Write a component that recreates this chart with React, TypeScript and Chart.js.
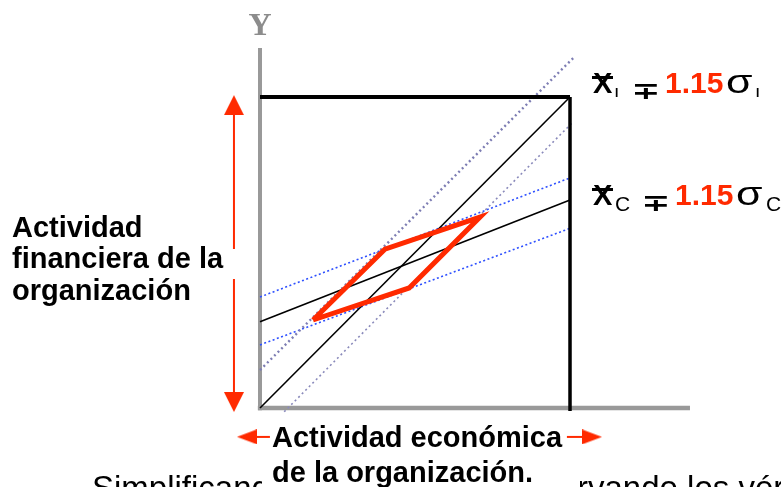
import { useEffect, useRef } from 'react';
import Chart from 'chart.js/auto';

// ---- scale domain (abstract units; origin of the diagram at 0,0, box limit at 10) ----
const X_MIN = -8.387;
const X_MAX = 16.806;
const Y_MIN = -2.54;
const Y_MAX = 13.12;

// ---- axes ----
const axisXx = [-0.07, 13.87];
const axisXy = [0, 0];
const axisYx = [0, 0];
const axisYy = [-0.07, 11.58];

// ---- box limits ----
const topX = [0, 10];
const topY = [10, 10];
const rightX = [10, 10];
const rightY = [10, -0.1];

// ---- line I (steep) and its band ----
const iX = [0, 10];
const iY = [0, 10];
const iUpX = [0, 10.1];
const iUpY = [1.22, 11.25];
const iLoX = [0.78, 10.1];
const iLoY = [-0.12, 9.2];

// ---- line C (flat) and its band ----
const cX = [0, 10];
const cY = [2.77, 6.69];
const cUpX = [0, 10];
const cUpY = [3.57, 7.4];
const cLoX = [0, 10.03];
const cLoY = [2.03, 5.79];

// ---- red zone ----
const zoneX = [1.71, 4.03, 7.1, 4.81, 1.71];
const zoneY = [2.83, 5.11, 6.14, 3.86, 2.83];

// ---- arrows ----
const vShaftX = [-0.84, -0.84, -0.84, -0.84, -0.84];
const vShaftY = [9.6, 5.11, null, 4.15, 0.3];
const hLeftX = [-0.4, 0.32];
const hLeftY = [-0.93, -0.93];
const hRightX = [9.9, 10.7];
const hRightY = [-0.93, -0.93];
const headX = [-0.84, -0.84, -0.74, 11.03];
const headY = [10.06, -0.13, -0.93, -0.93];
const headRot = [-90, 90, 180, 0];

// ---- texts ----
const Y_LABEL = 'Y';
const LEFT_LABEL = ['Actividad', 'financiera de la', 'organización'];
const BOTTOM_LABEL = ['Actividad económica', 'de la organización.'];
const BG_LEFT = 'Simplificando';
const BG_RIGHT_HIDDEN = 'obser';
const BG_RIGHT = 'observando los vértices';
const FACTOR = '1.15';
const SUB_I = 'I';
const SUB_C = 'C';

const RED = '#ff2a00';

const pts = (xs: (number | null)[], ys: (number | null)[]) => xs.map((x, i) => ({ x, y: ys[i] }));

function makeHead(len: number, wid: number) {
  const c = document.createElement('canvas');
  c.width = len * 2;
  c.height = wid;
  const g = c.getContext('2d')!;
  g.fillStyle = RED;
  g.beginPath();
  g.moveTo(0, 0);
  g.lineTo(len, wid / 2);
  g.lineTo(0, wid);
  g.closePath();
  g.fill();
  return c;
}

const SANS = '"Liberation Sans", Arial, sans-serif';

const labelsPlugin = {
  id: 'labels',
  afterDatasetsDraw(chart: any) {
    const ctx: CanvasRenderingContext2D = chart.ctx;
    ctx.save();
    ctx.textBaseline = 'alphabetic';

    // Y axis name
    ctx.fillStyle = '#8c8c8c';
    ctx.font = 'bold 32px "Liberation Serif", serif';
    ctx.textAlign = 'center';
    ctx.fillText(Y_LABEL, 260, 35);

    // left label
    ctx.textAlign = 'left';
    ctx.fillStyle = '#000';
    ctx.font = `bold 29px ${SANS}`;
    const lb = [237, 268, 300];
    LEFT_LABEL.forEach((t, i) => ctx.fillText(t, 12, lb[i]));

    // background sentence (partly hidden)
    ctx.font = `33px ${SANS}`;
    ctx.fillText(BG_LEFT, 92, 499);
    const hid = ctx.measureText(BG_RIGHT_HIDDEN).width;
    ctx.fillText(BG_RIGHT, 588 - hid, 499);
    ctx.fillStyle = '#fff';
    ctx.fillRect(262, 455, 318, 40);

    // bottom label
    ctx.fillStyle = '#000';
    ctx.font = `bold 29px ${SANS}`;
    ctx.fillText(BOTTOM_LABEL[0], 272, 447);
    ctx.fillText(BOTTOM_LABEL[1], 272, 482);

    // right formulas
    const formula = (base: number, sub: string, subFont: string, subDy: number, off: number) => {
      ctx.fillStyle = '#000';
      ctx.font = `bold 29px ${SANS}`;
      ctx.fillText('X', 593, base);
      ctx.fillRect(592, base - 17, 21, 3);
      ctx.font = subFont;
      ctx.fillText(sub, 615, base + subDy);
      ctx.save();
      ctx.translate(631 + off, base + 6);
      ctx.scale(1.45, 1);
      ctx.font = `bold 24px "DejaVu Sans", sans-serif`;
      ctx.fillText('∓', 0, 0);
      ctx.restore();
      ctx.fillStyle = RED;
      ctx.font = `bold 30px ${SANS}`;
      ctx.fillText(FACTOR, 665 + off, base);
      ctx.fillStyle = '#000';
      ctx.save();
      ctx.translate(726 + off, base);
      ctx.scale(1.3, 1);
      ctx.font = `33px ${SANS}`;
      ctx.fillText('σ', 0, 0);
      ctx.restore();
      ctx.font = subFont;
      ctx.fillText(sub, 756 + off, base + subDy);
    };
    formula(93, SUB_I, `bold 12px ${SANS}`, 4, 0);
    formula(205, SUB_C, `21px ${SANS}`, 6, 10);

    ctx.restore();
  },
};

export default function App() {
  const ref = useRef<HTMLCanvasElement | null>(null);

  useEffect(() => {
    if (!ref.current) return;
    const vHead = makeHead(20, 20);
    const hHead = makeHead(20, 15);
    const line = (data: any, color: string, width: number, dash: number[] = []) => ({
      data,
      showLine: true,
      borderColor: color,
      borderWidth: width,
      borderDash: dash,
      pointRadius: 0,
      fill: false,
      clip: false,
    });
    const chart = new Chart(ref.current, {
      type: 'scatter',
      data: {
        datasets: [
          {
            data: pts(headX, headY),
            showLine: false,
            pointRadius: 10,
            pointStyle: [vHead, vHead, hHead, hHead] as any,
            pointRotation: headRot,
            clip: false,
          } as any,
          line(pts(vShaftX, vShaftY), RED, 2),
          line(pts(hLeftX, hLeftY), RED, 2),
          line(pts(hRightX, hRightY), RED, 2),
          { ...line(pts(zoneX, zoneY), RED, 5), borderJoinStyle: 'miter' },
          line(pts(topX, topY), '#000', 4),
          line(pts(rightX, rightY), '#000', 3.5),
          line(pts(iX, iY), '#000', 1.6),
          line(pts(cX, cY), '#000', 1.6),
          line(pts(iUpX, iUpY), '#7d7db3', 2.4, [2, 3]),
          line(pts(iLoX, iLoY), '#8a8abb', 1.6, [2, 3]),
          line(pts(cUpX, cUpY), '#2e50ff', 1.6, [2, 2.5]),
          line(pts(cLoX, cLoY), '#2e50ff', 1.6, [2, 2.5]),
          line(pts(axisXx, axisXy), '#999999', 4.5),
          line(pts(axisYx, axisYy), '#999999', 4),
        ],
      },
      options: {
        animation: false,
        responsive: false,
        maintainAspectRatio: false,
        events: [],
        layout: { padding: 0, autoPadding: false },
        scales: {
          x: { type: 'linear', min: X_MIN, max: X_MAX, display: false },
          y: { type: 'linear', min: Y_MIN, max: Y_MAX, display: false },
        },
        plugins: { legend: { display: false }, tooltip: { enabled: false } },
      },
      plugins: [labelsPlugin],
    });
    return () => chart.destroy();
  }, []);

  return (
    <div style={{ position: 'absolute', left: 0, top: 0, width: 781, height: 487, background: '#fff' }}>
      <canvas ref={ref} width={781} height={487} style={{ display: 'block' }} />
    </div>
  );
}
